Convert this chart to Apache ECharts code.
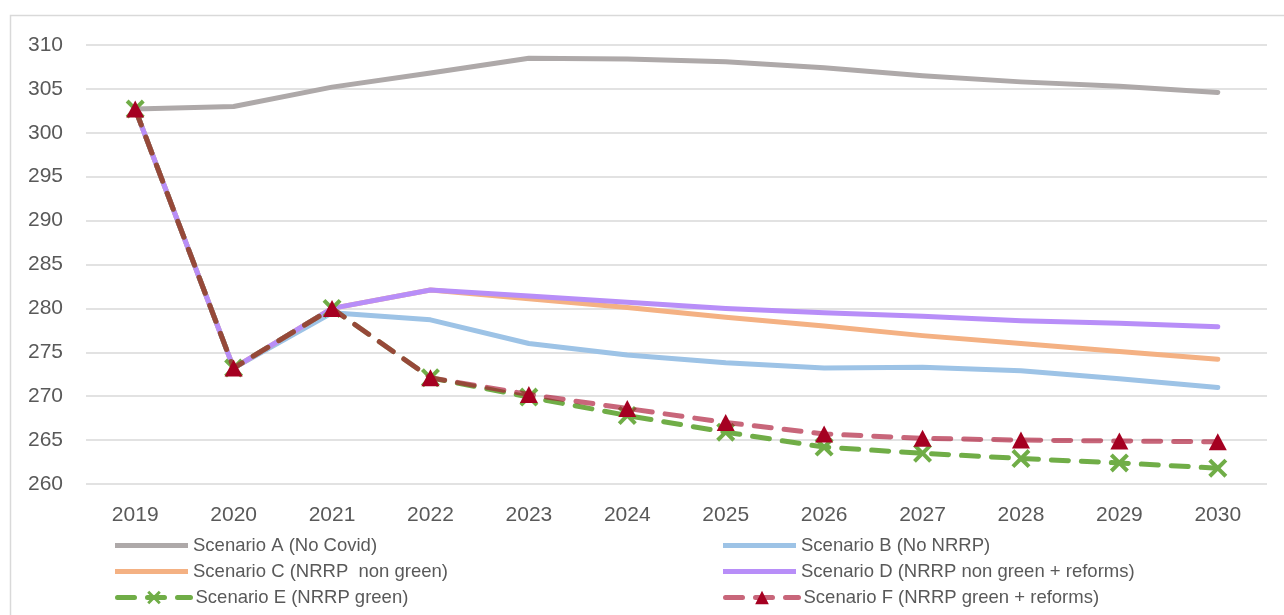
<!DOCTYPE html>
<html>
<head>
<meta charset="utf-8">
<script src="https://cdn.jsdelivr.net/npm/echarts@6/dist/echarts.min.js"></script>
<style>
html,body{margin:0;padding:0;background:#fff;}
#c{width:1284px;height:615px;}
</style>
</head>
<body>
<div id="c"></div>
<script>
const years = ['2019','2020','2021','2022','2023','2024','2025','2026','2027','2028','2029','2030'];
const yTicks = {min: 260, max: 310, step: 5};
const scenarioA = [302.7, 303.0, 305.2, 306.8, 308.5, 308.4, 308.1, 307.4, 306.5, 305.8, 305.3, 304.6];
const scenarioB = [302.7, 273.2, 279.5, 278.7, 276.0, 274.7, 273.8, 273.2, 273.3, 272.9, 272.0, 271.0];
const scenarioC = [302.7, 273.2, 280.0, 282.1, 281.1, 280.1, 279.0, 278.0, 276.9, 276.0, 275.1, 274.2];
const scenarioD = [302.7, 273.2, 280.0, 282.1, 281.4, 280.7, 280.0, 279.5, 279.1, 278.6, 278.3, 277.9];
const scenarioE = [302.7, 273.2, 280.0, 272.1, 269.9, 267.8, 265.9, 264.2, 263.5, 262.9, 262.4, 261.8];
const scenarioF = [302.7, 273.2, 280.0, 272.1, 270.2, 268.6, 267.0, 265.7, 265.2, 265.0, 264.9, 264.8];
const names = ['Scenario A (No Covid)', 'Scenario B (No NRRP)', 'Scenario C (NRRP  non green)',
  'Scenario D (NRRP non green + reforms)', 'Scenario E (NRRP green)', 'Scenario F (NRRP green + reforms)'];

const xPath = 'path://M0,1.5 L1.5,0 L5,3.5 L8.5,0 L10,1.5 L6.5,5 L10,8.5 L8.5,10 L5,6.5 L1.5,10 L0,8.5 L3.5,5 Z';
const font = 'Liberation Sans';
const txt = '#595959';
const colors = {A: '#AEA9A9', B: '#9DC3E6', C: '#F4B183', D: '#B88EF8', E: '#70AD47', F: '#A50021', Fline: 'rgba(170,20,50,0.65)'};

const chart = echarts.init(document.getElementById('c'), null, {renderer: 'canvas'});

function solid(name, data, color, z) {
  return {name, type: 'line', data, symbol: 'none', z,
    lineStyle: {color, width: 5, cap: 'round', join: 'round'}, itemStyle: {color},
    emphasis: {disabled: true}};
}

const legendSpec = [
  {name: names[0], left: 115, top: 536, solid: true},
  {name: names[2], left: 115, top: 562, solid: true},
  {name: names[4], left: 115, top: 588, solid: false},
  {name: names[1], left: 723, top: 536, solid: true},
  {name: names[3], left: 723, top: 562, solid: true},
  {name: names[5], left: 723, top: 588, solid: false}
];

chart.setOption({
  animation: false,
  backgroundColor: '#fff',
  graphic: [{type: 'rect', shape: {x: 10.5, y: 15.5, width: 1290, height: 620},
    style: {fill: 'none', stroke: '#D9D9D9', lineWidth: 1.5}, silent: true, z: -10}],
  grid: {left: 86, right: 17, top: 45, bottom: 131, containLabel: false},
  legend: legendSpec.map(p => ({
    data: [p.solid ? {name: p.name, icon: 'path://M0,0 L73,0 L73,5 L0,5 Z'} : {name: p.name}],
    left: p.left, top: p.top, orient: 'horizontal', padding: 0,
    itemWidth: 73, itemHeight: p.solid ? 5 : 17, itemGap: 5, selectedMode: false,
    lineStyle: {width: 5},
    textStyle: {fontFamily: font, fontSize: 18.5, color: txt, lineHeight: 17}
  })),
  xAxis: {
    type: 'category', data: years, boundaryGap: true,
    axisLine: {show: false}, axisTick: {show: false},
    axisLabel: {fontFamily: font, fontSize: 21, color: txt, margin: 21}
  },
  yAxis: {
    type: 'value', min: yTicks.min, max: yTicks.max, interval: yTicks.step,
    axisLine: {show: false}, axisTick: {show: false},
    axisLabel: {fontFamily: font, fontSize: 21, color: txt, margin: 23},
    splitLine: {lineStyle: {color: '#D9D9D9', width: 1.5}}
  },
  series: [
    solid(names[0], scenarioA, colors.A, 2),
    solid(names[1], scenarioB, colors.B, 3),
    solid(names[2], scenarioC, colors.C, 4),
    solid(names[3], scenarioD, colors.D, 5),
    {name: names[4], type: 'line', data: scenarioE, z: 6,
      symbol: xPath, symbolSize: 19, showAllSymbol: true,
      itemStyle: {color: colors.E},
      lineStyle: {color: colors.E, width: 5, type: [17, 13], cap: 'round'},
      emphasis: {disabled: true}},
    {name: names[5], type: 'line', data: scenarioF, z: 7,
      symbol: 'triangle', symbolSize: [18, 17], showAllSymbol: true,
      itemStyle: {color: colors.F},
      lineStyle: {color: colors.Fline, width: 5, type: [17, 13], cap: 'round'},
      emphasis: {disabled: true}}
  ]
});
</script>
</body>
</html>
